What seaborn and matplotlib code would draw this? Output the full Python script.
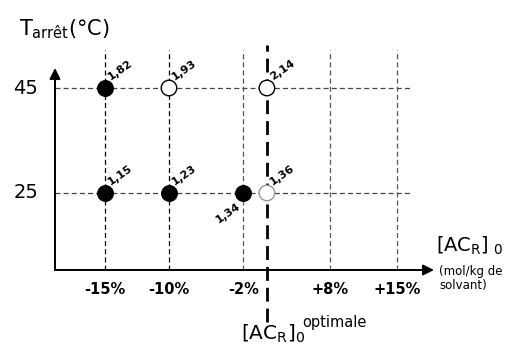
import numpy as np
import pandas as pd
import matplotlib
matplotlib.use("Agg")
import matplotlib.pyplot as plt
import seaborn as sns

# concentration levels shown on the x axis
conc_labels = ['-15%', '-10%', '-2%', '+8%', '+15%']
temp_levels = [25, 45]

# measured points
pt_conc = ['-15%', '-10%', 'opt', '-15%', '-10%', '-2%', 'opt']
pt_temp = [45, 45, 45, 25, 25, 25, 25]
pt_value = ['1,82', '1,93', '2,14', '1,15', '1,23', '1,34', '1,36']
pt_filled = [True, False, False, True, True, True, False]

# layout: horizontal slot of each concentration (schematic spacing)
slot = {'-15%': 1.0, '-10%': 2.0, '-2%': 3.16, 'opt': 3.53, '+8%': 4.52, '+15%': 5.56}

W, H = 513, 356
sns.set_theme(style="white")
plt.rcParams['font.family'] = ['DejaVu Sans']
plt.rcParams['mathtext.fontset'] = 'dejavusans'
plt.rcParams['text.color'] = 'black'

fig = plt.figure(figsize=(W / 100, H / 100), dpi=100)
ax = fig.add_axes([0, 0, 1, 1])


def xd(px):
    return (px - 105) / 64 + 1


def yd(py):
    return 45 - (py - 88) / 5.25


ax.set_xlim(xd(0), xd(W))
ax.set_ylim(yd(H), yd(0))
ax.axis('off')

x0, y0 = xd(55), yd(270)

# grid (dashed)
for t in temp_levels:
    ax.plot([x0, xd(410)], [t, t], ls=(0, (4, 2.5)), color='#444444', lw=0.9, zorder=1)
for c in conc_labels:
    col = 'black' if c in ('-15%', '-10%') else '#555555'
    ax.plot([slot[c], slot[c]], [y0, yd(50)], ls=(0, (4, 2.5)), color=col, lw=0.9, zorder=1)
# optimum line
ax.plot([slot['opt'], slot['opt']], [yd(322), yd(45)], ls=(0, (5, 2.5)), color='black', lw=2.0, zorder=1)

# axes with arrows
ax.annotate('', xy=(x0, yd(68)), xytext=(x0, y0),
            arrowprops=dict(arrowstyle='-|>', color='black', lw=1.4, mutation_scale=16, shrinkA=0, shrinkB=0))
ax.annotate('', xy=(xd(434), y0), xytext=(x0, y0),
            arrowprops=dict(arrowstyle='-|>', color='black', lw=1.4, mutation_scale=16, shrinkA=0, shrinkB=0))

df = pd.DataFrame({'x': [slot[c] for c in pt_conc], 'T': pt_temp,
                   'v': pt_value, 'filled': pt_filled, 'conc': pt_conc})
fill = df[df['filled']]
hollow = df[~df['filled']]
sns.scatterplot(data=fill, x='x', y='T', ax=ax, s=125, color='black',
                edgecolor='black', linewidth=1, zorder=3, legend=False)
edge = ['#999999' if (c == 'opt' and t == 25) else 'black'
        for c, t in zip(hollow['conc'], hollow['T'])]
ax.scatter(hollow['x'], hollow['T'], s=125, facecolor='white', edgecolor=edge, linewidth=1, zorder=3)

for _, r in df.iterrows():
    if r['v'] == '1,34':
        ax.annotate(r['v'], (r['x'], r['T']), xytext=(-5, -6), textcoords='offset points',
                    ha='right', va='top', rotation=35, rotation_mode='anchor',
                    fontsize=8, fontweight='bold')
    else:
        ax.annotate(r['v'], (r['x'], r['T']), xytext=(5, 4), textcoords='offset points',
                    ha='left', va='bottom', rotation=35, rotation_mode='anchor',
                    fontsize=8, fontweight='bold')

# tick labels
for c in conc_labels:
    ax.text(slot[c], yd(289), c, ha='center', va='center', fontsize=10.5, fontweight='bold')
for t in temp_levels:
    ax.text(xd(26), t, str(t), ha='center', va='center', fontsize=14)

# axis titles
ax.text(xd(19), yd(29), r'T$_{\mathregular{arrêt}}$(°C)', ha='left', va='center', fontsize=15)
ax.text(xd(436), yd(246), r'[AC$_{\mathregular{R}}$]$_{\mathregular{\ 0}}$', ha='left', va='center', fontsize=14)
ax.text(xd(439), yd(279), '(mol/kg de\nsolvant)', ha='left', va='center', fontsize=8.5, linespacing=1.1)
ax.text(xd(241), yd(334), r'[AC$_{\mathregular{R}}$]$_{\mathregular{0}}$',
        ha='left', va='center', fontsize=14.5)
ax.text(xd(302), yd(323), 'optimale', ha='left', va='center', fontsize=10.5)

fig.savefig('out.png', dpi=100)
